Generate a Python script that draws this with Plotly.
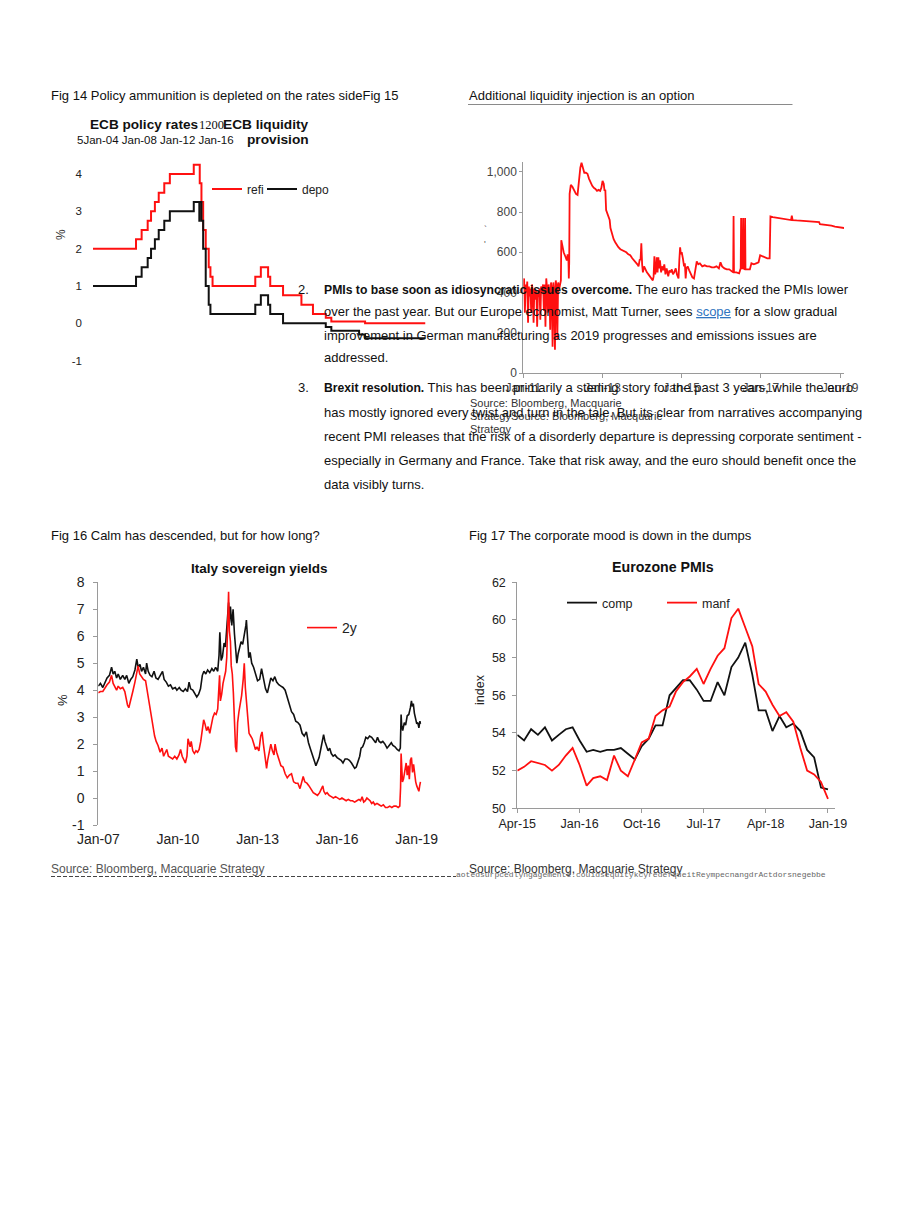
import plotly.graph_objects as go
import pandas as pd

W, H = 920, 1216
def px(x): return x / W
def py(y): return 1 - y / H

def yr(v):
    # decimal year -> timestamp
    y = int(v)
    start = pd.Timestamp(year=y, month=1, day=1)
    end = pd.Timestamp(year=y + 1, month=1, day=1)
    return start + (end - start) * (v - y)

FONT = "Arial, 'Liberation Sans', sans-serif"
RED = "#ff1010"
BLK = "#111111"

# ---------------- Fig 14: ECB policy rates (step data) ----------------
refi_dates = ["2004-01-01", "2005-12-06", "2006-03-08", "2006-06-15", "2006-08-09", "2006-10-11",
              "2006-12-13", "2007-03-14", "2007-06-13", "2008-07-09", "2008-10-15", "2008-11-12",
              "2008-12-10", "2009-01-21", "2009-03-11", "2009-04-08", "2009-05-13", "2011-04-13",
              "2011-07-13", "2011-11-09", "2011-12-14", "2012-07-11", "2013-05-08", "2013-11-13",
              "2014-06-11", "2014-09-10", "2016-03-16", "2018-12-01"]
refi = [2.0, 2.25, 2.5, 2.75, 3.0, 3.25, 3.5, 3.75, 4.0, 4.25, 3.75, 3.25, 2.5, 2.0, 1.5, 1.25,
        1.0, 1.25, 1.5, 1.25, 1.0, 0.75, 0.5, 0.25, 0.15, 0.05, 0.0, 0.0]
depo_dates = ["2004-01-01", "2005-12-06", "2006-03-08", "2006-06-15", "2006-08-09", "2006-10-11",
              "2006-12-13", "2007-03-14", "2007-06-13", "2008-07-09", "2008-10-08", "2008-10-09",
              "2008-11-12", "2008-12-10", "2009-01-21", "2009-03-11", "2009-04-08", "2011-04-13",
              "2011-07-13", "2011-11-09", "2011-12-14", "2012-07-11", "2014-06-11", "2014-09-10",
              "2015-12-09", "2016-03-16", "2018-12-01"]
depo = [1.0, 1.25, 1.5, 1.75, 2.0, 2.25, 2.5, 2.75, 3.0, 3.25, 2.75, 3.25, 2.75, 2.0, 1.0, 0.5,
        0.25, 0.5, 0.75, 0.5, 0.25, 0.0, -0.1, -0.2, -0.3, -0.4, -0.4]
rate_ticks = [-1, 0, 1, 2, 3, 4]
rate_ticktext = ["-1", "0", "1", "2", "3", "4"]

# ---------------- Fig 15: ECB liquidity provision (EUR bn) ----------------
liq_t = [2011.00, 2011.02, 2011.04, 2011.06, 2011.08, 2011.10, 2011.12, 2011.14, 2011.16, 2011.18,
         2011.20, 2011.22, 2011.24, 2011.26, 2011.28, 2011.31, 2011.33, 2011.35, 2011.37, 2011.39,
         2011.41, 2011.43, 2011.45, 2011.48, 2011.50, 2011.52, 2011.54, 2011.56, 2011.58, 2011.60,
         2011.62, 2011.64, 2011.66, 2011.68, 2011.70, 2011.72, 2011.74, 2011.76, 2011.78, 2011.80,
         2011.82, 2011.84, 2011.86, 2011.88, 2011.91, 2011.93, 2011.95, 2011.96, 2011.99, 2012.02,
         2012.06, 2012.10, 2012.12, 2012.14, 2012.15, 2012.16, 2012.17, 2012.20, 2012.24, 2012.28,
         2012.33, 2012.37, 2012.40, 2012.44, 2012.47, 2012.50, 2012.54, 2012.58, 2012.62, 2012.66,
         2012.70, 2012.74, 2012.78, 2012.82, 2012.86, 2012.90, 2012.94, 2012.97, 2013.00, 2013.03,
         2013.05, 2013.07, 2013.09, 2013.12, 2013.15, 2013.18, 2013.20, 2013.24, 2013.28, 2013.32,
         2013.36, 2013.40, 2013.45, 2013.50, 2013.55, 2013.60, 2013.65, 2013.70, 2013.75, 2013.80,
         2013.85, 2013.88, 2013.91, 2013.94, 2013.96, 2013.98, 2014.00, 2014.02, 2014.05, 2014.08,
         2014.12, 2014.16, 2014.20, 2014.24, 2014.27, 2014.29, 2014.31, 2014.33, 2014.35, 2014.37,
         2014.39, 2014.41, 2014.43, 2014.45, 2014.48, 2014.50, 2014.53, 2014.56, 2014.59, 2014.62,
         2014.66, 2014.69, 2014.72, 2014.75, 2014.78, 2014.81, 2014.85, 2014.88, 2014.92, 2014.94,
         2014.96, 2014.98, 2015.00, 2015.03, 2015.06, 2015.08, 2015.10, 2015.12, 2015.15, 2015.19,
         2015.23, 2015.27, 2015.31, 2015.34, 2015.38, 2015.42, 2015.46, 2015.52, 2015.58, 2015.64,
         2015.70, 2015.76, 2015.82, 2015.88, 2015.94, 2015.98, 2016.02, 2016.08, 2016.14, 2016.20,
         2016.26, 2016.30, 2016.31, 2016.32, 2016.38, 2016.45, 2016.49, 2016.50, 2016.51, 2016.54,
         2016.55, 2016.56, 2016.59, 2016.60, 2016.61, 2016.66, 2016.72, 2016.76, 2016.82, 2016.88,
         2016.94, 2016.98, 2017.04, 2017.10, 2017.16, 2017.22, 2017.24, 2017.30, 2017.40, 2017.50,
         2017.60, 2017.70, 2017.76, 2017.78, 2017.80, 2017.90, 2018.00, 2018.10, 2018.20, 2018.30,
         2018.40, 2018.47, 2018.49, 2018.60, 2018.70, 2018.78, 2018.87, 2018.95, 2019.05, 2019.12]
liq = [420, 470, 300, 440, 400, 455, 250, 430, 380, 420,
       300, 440, 400, 250, 420, 365, 410, 230, 400, 380,
       420, 265, 430, 400, 440, 310, 440, 230, 470, 420,
       300, 440, 400, 215, 450, 420, 130, 450, 410, 115,
       460, 430, 165, 450, 420, 440, 460, 660, 620, 600,
       580, 560, 590, 560, 470, 550, 890, 935, 925, 910,
       890, 885, 960, 1020, 1045, 1025, 995, 995, 990, 965,
       945, 930, 920, 915, 905, 910, 905, 920, 955, 940,
       905, 910, 810, 790, 770, 760, 720, 690, 665, 650,
       635, 625, 615, 610, 605, 600, 590, 585, 570, 560,
       545, 540, 530, 565, 560, 645, 540, 500, 530, 515,
       500, 490, 480, 470, 460, 480, 580, 490, 510, 575,
       500, 575, 520, 560, 500, 530, 510, 540, 490, 520,
       480, 510, 500, 515, 490, 500, 520, 490, 470, 560,
       625, 590, 600, 570, 530, 545, 470, 520, 530, 510,
       490, 475, 470, 500, 555, 540, 545, 530, 535, 530,
       530, 525, 525, 530, 520, 550, 530, 520, 515, 515,
       505, 500, 780, 500, 500, 495, 520, 770, 520, 520,
       770, 520, 515, 770, 515, 515, 515, 545, 540, 545,
       550, 585, 580, 575, 570, 570, 778, 775, 772, 768,
       765, 762, 760, 782, 760, 758, 756, 755, 754, 752,
       751, 750, 740, 738, 736, 732, 727, 724, 722, 720]
liq_ticks = [0, 200, 400, 600, 800, 1000]

# ---------------- Fig 16: Italy sovereign yields ----------------
y10_t = [2007.00, 2007.08, 2007.17, 2007.25, 2007.33, 2007.42, 2007.50, 2007.56, 2007.62, 2007.69,
         2007.75, 2007.83, 2007.92, 2008.00, 2008.07, 2008.15, 2008.22, 2008.30, 2008.38, 2008.45,
         2008.50, 2008.57, 2008.63, 2008.70, 2008.78, 2008.82, 2008.88, 2008.95, 2009.02, 2009.10,
         2009.17, 2009.25, 2009.33, 2009.42, 2009.48, 2009.56, 2009.64, 2009.72, 2009.80, 2009.90,
         2009.96, 2010.05, 2010.12, 2010.20, 2010.28, 2010.36, 2010.42, 2010.48, 2010.56, 2010.64,
         2010.71, 2010.78, 2010.85, 2010.92, 2010.98, 2011.05, 2011.12, 2011.20, 2011.28, 2011.35,
         2011.42, 2011.50, 2011.55, 2011.58, 2011.63, 2011.68, 2011.74, 2011.79, 2011.84, 2011.88,
         2011.91, 2011.94, 2011.98, 2012.03, 2012.08, 2012.13, 2012.17, 2012.22, 2012.27, 2012.32,
         2012.38, 2012.44, 2012.50, 2012.56, 2012.58, 2012.62, 2012.67, 2012.72, 2012.78, 2012.85,
         2012.92, 2013.00, 2013.08, 2013.15, 2013.22, 2013.30, 2013.37, 2013.44, 2013.50, 2013.58,
         2013.65, 2013.72, 2013.80, 2013.88, 2013.96, 2014.04, 2014.12, 2014.20, 2014.28, 2014.36,
         2014.44, 2014.52, 2014.60, 2014.68, 2014.76, 2014.84, 2014.92, 2015.00, 2015.08, 2015.15,
         2015.20, 2015.26, 2015.32, 2015.38, 2015.44, 2015.49, 2015.54, 2015.60, 2015.66, 2015.72,
         2015.78, 2015.85, 2015.92, 2016.00, 2016.08, 2016.15, 2016.22, 2016.30, 2016.38, 2016.46,
         2016.54, 2016.60, 2016.66, 2016.72, 2016.78, 2016.85, 2016.90, 2016.96, 2017.02, 2017.08,
         2017.15, 2017.22, 2017.30, 2017.38, 2017.45, 2017.52, 2017.58, 2017.65, 2017.72, 2017.80,
         2017.88, 2017.96, 2018.04, 2018.10, 2018.18, 2018.26, 2018.33, 2018.38, 2018.40, 2018.41,
         2018.43, 2018.47, 2018.53, 2018.58, 2018.64, 2018.70, 2018.76, 2018.80, 2018.83, 2018.87,
         2018.91, 2018.95, 2019.00, 2019.04, 2019.08, 2019.12, 2019.14]
y10 = [4.15, 4.25, 4.10, 4.30, 4.45, 4.55, 4.85, 4.60, 4.70, 4.45,
       4.60, 4.40, 4.55, 4.40, 4.55, 4.25, 4.40, 4.50, 4.75, 5.15,
       4.85, 4.95, 4.70, 4.85, 4.60, 5.00, 4.70, 4.55, 4.50, 4.70,
       4.45, 4.40, 4.55, 4.70, 4.40, 4.30, 4.15, 4.20, 4.05, 4.10,
       4.00, 4.10, 4.00, 3.95, 4.05, 3.95, 4.30, 4.05, 4.00, 3.85,
       3.75, 3.85, 4.05, 4.55, 4.70, 4.60, 4.75, 4.65, 4.80, 4.70,
       4.85, 4.70, 5.30, 6.15, 5.10, 5.25, 5.75, 5.60, 6.20, 6.60,
       7.25, 6.50, 7.10, 6.40, 7.00, 6.10, 5.40, 5.00, 5.35, 5.60,
       5.80, 5.70, 6.00, 6.40, 6.60, 5.80, 5.20, 5.40, 5.00, 4.85,
       4.65, 4.35, 4.40, 4.80, 4.45, 4.05, 3.90, 4.25, 4.45, 4.35,
       4.50, 4.30, 4.20, 4.15, 4.10, 4.00, 3.70, 3.45, 3.20, 3.10,
       2.85, 2.80, 2.70, 2.40, 2.30, 2.45, 2.05, 1.80, 1.55, 1.30,
       1.20, 1.35, 1.50, 1.80, 2.15, 2.35, 2.10, 1.90, 1.75, 1.85,
       1.65, 1.55, 1.60, 1.50, 1.45, 1.40, 1.30, 1.45, 1.45, 1.40,
       1.30, 1.20, 1.10, 1.15, 1.35, 1.55, 1.85, 1.90, 2.05, 2.25,
       2.20, 2.30, 2.25, 2.15, 2.05, 2.25, 2.10, 2.05, 2.10, 2.00,
       1.85, 1.95, 2.05, 1.95, 1.90, 1.80, 1.75, 1.85, 2.60, 3.10,
       2.70, 2.50, 2.80, 2.70, 3.05, 3.10, 3.35, 3.60, 3.40, 3.50,
       3.15, 2.95, 2.75, 2.80, 2.60, 2.85, 2.75]
y2_t = [2007.00, 2007.08, 2007.17, 2007.25, 2007.33, 2007.42, 2007.50, 2007.56, 2007.62, 2007.69,
        2007.75, 2007.83, 2007.92, 2008.00, 2008.05, 2008.10, 2008.15, 2008.22, 2008.30, 2008.38,
        2008.45, 2008.50, 2008.56, 2008.63, 2008.70, 2008.78, 2008.83, 2008.88, 2008.95, 2009.00,
        2009.06, 2009.12, 2009.18, 2009.25, 2009.33, 2009.40, 2009.46, 2009.52, 2009.58, 2009.64,
        2009.72, 2009.80, 2009.88, 2009.96, 2010.04, 2010.10, 2010.16, 2010.22, 2010.28, 2010.34,
        2010.38, 2010.42, 2010.46, 2010.50, 2010.56, 2010.62, 2010.68, 2010.74, 2010.80, 2010.86,
        2010.92, 2010.97, 2011.02, 2011.08, 2011.14, 2011.20, 2011.26, 2011.32, 2011.38, 2011.44,
        2011.50, 2011.54, 2011.57, 2011.60, 2011.65, 2011.70, 2011.75, 2011.80, 2011.84, 2011.88,
        2011.91, 2011.94, 2011.98, 2012.01, 2012.05, 2012.09, 2012.13, 2012.17, 2012.21, 2012.25,
        2012.30, 2012.35, 2012.40, 2012.46, 2012.50, 2012.54, 2012.58, 2012.62, 2012.68, 2012.74,
        2012.80, 2012.86, 2012.92, 2012.98, 2013.05, 2013.12, 2013.17, 2013.22, 2013.28, 2013.34,
        2013.38, 2013.44, 2013.50, 2013.56, 2013.62, 2013.66, 2013.72, 2013.80, 2013.88, 2013.96,
        2014.04, 2014.12, 2014.20, 2014.28, 2014.36, 2014.44, 2014.52, 2014.60, 2014.66, 2014.72,
        2014.78, 2014.86, 2014.94, 2015.02, 2015.10, 2015.18, 2015.26, 2015.34, 2015.40, 2015.46,
        2015.50, 2015.56, 2015.62, 2015.70, 2015.78, 2015.86, 2015.94, 2016.02, 2016.10, 2016.18,
        2016.26, 2016.34, 2016.42, 2016.50, 2016.58, 2016.66, 2016.74, 2016.82, 2016.88, 2016.94,
        2017.00, 2017.06, 2017.12, 2017.18, 2017.24, 2017.30, 2017.36, 2017.42, 2017.50, 2017.58,
        2017.66, 2017.74, 2017.82, 2017.90, 2017.98, 2018.06, 2018.14, 2018.22, 2018.30, 2018.36,
        2018.39, 2018.41, 2018.43, 2018.46, 2018.50, 2018.55, 2018.60, 2018.64, 2018.68, 2018.72,
        2018.76, 2018.80, 2018.84, 2018.88, 2018.92, 2018.96, 2019.00, 2019.04, 2019.08, 2019.11,
        2019.14]
y2 = [3.90, 3.95, 3.95, 4.10, 4.20, 4.30, 4.55, 4.25, 4.15, 4.00,
      4.15, 4.05, 4.10, 3.95, 3.70, 3.45, 3.35, 3.60, 3.95, 4.30,
      4.65, 4.90, 4.60, 4.50, 4.40, 4.35, 4.05, 3.70, 3.40, 3.05,
      2.70, 2.30, 2.10, 1.95, 1.70, 1.85, 1.55, 1.70, 1.80, 1.55,
      1.50, 1.45, 1.55, 1.45, 1.60, 1.80, 1.55, 1.40, 1.30, 1.55,
      2.20, 2.05, 1.90, 2.10, 1.75, 1.65, 1.75, 1.70, 1.80, 2.10,
      2.55, 2.90, 2.75, 2.50, 2.65, 2.40, 2.70, 3.00, 3.15, 3.10,
      3.30, 3.90, 4.55, 3.60, 3.85, 4.25, 4.55, 4.70, 5.20, 6.40,
      7.65, 6.20, 5.80, 4.90, 4.60, 3.90, 2.80, 1.90, 1.70, 2.80,
      3.20, 3.50, 3.80, 4.40, 5.00, 4.10, 3.60, 3.00, 2.40, 2.30,
      2.20, 2.00, 1.80, 1.90, 1.75, 2.30, 2.45, 2.00, 1.60, 1.10,
      1.40, 1.70, 2.00, 1.75, 1.60, 2.00, 1.70, 1.45, 1.20, 1.15,
      0.90, 0.75, 0.85, 0.90, 0.60, 0.55, 0.55, 0.35, 0.55, 0.80,
      0.60, 0.55, 0.45, 0.30, 0.20, 0.15, 0.10, 0.20, 0.30, 0.45,
      0.25, 0.15, 0.20, 0.10, 0.05, 0.00, 0.05, 0.00, -0.05, 0.00,
      -0.05, -0.10, -0.05, -0.10, -0.10, -0.15, -0.10, -0.05, -0.10, 0.05,
      -0.15, -0.10, 0.00, -0.05, -0.10, -0.20, -0.15, -0.25, -0.20, -0.25,
      -0.30, -0.25, -0.35, -0.35, -0.30, -0.35, -0.30, -0.30, -0.35, -0.30,
      0.40, 1.65, 1.10, 0.60, 0.70, 0.95, 1.30, 0.85, 1.20, 0.70,
      1.40, 1.50, 0.95, 1.25, 0.80, 0.60, 0.45, 0.35, 0.25, 0.45,
      0.60]
yield_ticks = [-1, 0, 1, 2, 3, 4, 5, 6, 7, 8]
yield_ticktext = ["-1", "0", "1", "2", "3", "4", "5", "6", "7", "8"]

# ---------------- Fig 17: Eurozone PMIs (monthly, Apr-15 .. Jan-19) ----------------
pmi_months = pd.date_range("2015-04-01", "2019-01-01", freq="MS")
comp = [53.9, 53.6, 54.2, 53.9, 54.3, 53.6, 53.9, 54.2, 54.3, 53.6, 53.0, 53.1, 53.0, 53.1,
        53.1, 53.2, 52.9, 52.6, 53.3, 53.7, 54.4, 54.4, 56.0, 56.4, 56.8, 56.8, 56.3, 55.7,
        55.7, 56.7, 56.0, 57.5, 58.0, 58.8, 57.1, 55.2, 55.2, 54.1, 54.9, 54.3, 54.5, 54.1,
        53.1, 52.7, 51.1, 51.0]
manf = [52.0, 52.2, 52.5, 52.4, 52.3, 52.0, 52.3, 52.8, 53.2, 52.3, 51.2, 51.6, 51.7, 51.5,
        52.8, 52.0, 51.7, 52.6, 53.5, 53.7, 54.9, 55.2, 55.4, 56.2, 56.7, 57.0, 57.4, 56.6,
        57.4, 58.1, 58.5, 60.1, 60.6, 59.6, 58.6, 56.6, 56.2, 55.5, 54.9, 55.1, 54.6, 53.2,
        52.0, 51.8, 51.4, 50.5]
pmi_ticks = [50, 52, 54, 56, 58, 60, 62]

fig = go.Figure()

# Fig 14 traces
fig.add_trace(go.Scatter(x=refi_dates, y=refi, mode="lines", line=dict(color=RED, width=2, shape="hv"),
                         name="refi", xaxis="x", yaxis="y", legend="legend"))
fig.add_trace(go.Scatter(x=depo_dates, y=depo, mode="lines", line=dict(color=BLK, width=2, shape="hv"),
                         name="depo", xaxis="x", yaxis="y", legend="legend2"))
# Fig 15 trace
fig.add_trace(go.Scatter(x=[yr(t) for t in liq_t], y=liq, mode="lines",
                         line=dict(color=RED, width=1.8), showlegend=False, xaxis="x2", yaxis="y2"))
# Fig 16 traces
fig.add_trace(go.Scatter(x=[yr(t) for t in y10_t], y=y10, mode="lines",
                         line=dict(color=BLK, width=1.6), name="10y", showlegend=False,
                         xaxis="x3", yaxis="y3"))
fig.add_trace(go.Scatter(x=[yr(t) for t in y2_t], y=y2, mode="lines",
                         line=dict(color=RED, width=1.6), name="2y", xaxis="x3", yaxis="y3",
                         legend="legend3"))
# Fig 17 traces
fig.add_trace(go.Scatter(x=pmi_months, y=comp, mode="lines", line=dict(color=BLK, width=1.8),
                         name="comp", xaxis="x4", yaxis="y4", legend="legend4"))
fig.add_trace(go.Scatter(x=pmi_months, y=manf, mode="lines", line=dict(color=RED, width=1.8),
                         name="manf", xaxis="x4", yaxis="y4", legend="legend5"))

AX = "#9a9a9a"
common_x = dict(showgrid=False, zeroline=False, type="date", automargin=False)
common_y = dict(showgrid=False, zeroline=False, automargin=False)

def leg(x, y, size):
    return dict(orientation="h", x=px(x), xanchor="left", y=py(y), yanchor="middle",
                bgcolor="rgba(0,0,0,0)", borderwidth=0, font=dict(size=size, color="#222"),
                itemwidth=30)

fig.update_layout(
    width=W, height=H, margin=dict(l=0, r=0, t=0, b=0, pad=0, autoexpand=False),
    paper_bgcolor="white", plot_bgcolor="rgba(0,0,0,0)",
    font=dict(family=FONT, color="#111"),
    # Fig 14
    xaxis=dict(common_x, domain=[px(93), px(425.5)], range=["2004-01-01", "2018-12-01"],
               visible=False, anchor="y"),
    yaxis=dict(common_y, domain=[py(368.1), py(155.3)], range=[-1.2, 4.5], tickvals=rate_ticks,
               ticktext=rate_ticktext, showline=False, ticks="",
               tickfont=dict(size=11.5, color="#222"), ticklabelstandoff=10, anchor="x"),
    # Fig 15
    xaxis2=dict(common_x, domain=[px(523.3), px(844)], range=["2011-01-01", "2019-02-06"],
                tick0="2011-01-01", dtick="M24", tickformat="%b-%y", showline=True,
                linecolor=AX, ticks="outside", ticklen=4, tickcolor=AX,
                tickfont=dict(size=12, color="#444"), anchor="y2"),
    yaxis2=dict(common_y, domain=[py(373), py(161.7)], range=[0, 1050], tickvals=liq_ticks,
                tickformat=",", showline=True, linecolor=AX, ticks="outside", ticklen=3,
                tickcolor=AX, tickfont=dict(size=12, color="#444"), anchor="x2"),
    # Fig 16
    xaxis3=dict(common_x, domain=[px(98.3), px(421.7)], range=["2007-01-01", "2019-03-10"],
                tick0="2007-01-01", dtick="M36", tickformat="%b-%y", showline=False, ticks="",
                tickfont=dict(size=14, color="#222"), ticklabelstandoff=4, anchor="y3"),
    xaxis5=dict(common_x, domain=[px(98.3), px(421.7)], range=["2007-01-01", "2019-03-10"],
                tick0="2007-01-01", dtick="M36", showline=True, linecolor=AX, ticks="outside",
                ticklen=4, tickcolor=AX, showticklabels=False, overlaying="x3",
                anchor="free", position=py(798.3)),
    yaxis3=dict(common_y, domain=[py(825), py(582.3)], range=[-1, 8], tickvals=yield_ticks,
                ticktext=yield_ticktext, showline=True, linecolor=AX, ticks="outside", ticklen=4,
                tickcolor=AX, tickfont=dict(size=14, color="#222"), ticklabelstandoff=6,
                anchor="x3"),
    # Fig 17
    xaxis4=dict(common_x, domain=[px(517.3), px(835)], range=["2015-04-01", "2019-02-01"],
                tick0="2015-04-01", dtick="M9", tickformat="%b-%y", showline=True,
                linecolor=AX, ticks="outside", ticklen=4, tickcolor=AX,
                tickfont=dict(size=12.5, color="#222"), anchor="y4"),
    yaxis4=dict(common_y, domain=[py(808.3), py(582.3)], range=[50, 62], tickvals=pmi_ticks,
                showline=True, linecolor=AX, ticks="outside", ticklen=4, tickcolor=AX,
                tickfont=dict(size=12.5, color="#222"), ticklabelstandoff=4, anchor="x4"),
    legend=leg(207, 189, 12),
    legend2=leg(262, 189, 12),
    legend3=leg(302, 628, 14),
    legend4=leg(562, 603, 12.5),
    legend5=leg(662, 603, 12.5),
)

ann = []
def txt(x, y, s, size=13, color="#111", anchor="left", family=FONT, angle=0, yanchor="middle"):
    ann.append(dict(x=px(x), y=py(y), xref="paper", yref="paper", text=s, showarrow=False,
                    xanchor=anchor, yanchor=yanchor, textangle=angle,
                    font=dict(size=size, color=color, family=family), borderpad=0))

# Headers
txt(50, 95.5, "Fig 14 Policy ammunition is depleted on the rates sideFig 15", size=13)
txt(468, 95.5, "Additional liquidity injection is an option", size=13)
txt(50, 535, "Fig 16 Calm has descended, but for how long?", size=13)
txt(468, 535, "Fig 17 The corporate mood is down in the dumps", size=13)

# Fig 14 / 15 titles (overlapping, as in source)
txt(88.5, 124, "<b>ECB policy rates</b>", size=13.6)
txt(197.5, 124.5, "1200", size=12.5, family="'Liberation Serif', 'DejaVu Serif', serif")
txt(310, 124, "<b>ECB liquidity</b>", size=13.7, anchor="right")
txt(310, 140, "<b>provision</b>", size=13.7, anchor="right")
txt(76, 139.5, "5Jan-04 Jan-08 Jan-12 Jan-16", size=11.5)
txt(61, 235, "%", size=12, angle=-90, anchor="center", color="#333")

# Fig 15 small remnants & source
txt(485, 229, "`", size=9, anchor="center", color="#555")
txt(485, 244, "'", size=9, anchor="center", color="#555")
txt(469, 403, "Source: Bloomberg, Macquarie", size=11, color="#333")
txt(469, 416, "StrategySource: Bloomberg, Macquarie", size=11, color="#333")
txt(469, 429, "Strategy", size=11, color="#333")

# Body text
LX, NX = 323, 297
BS = "<span style='font-size:12.2px'><b>{}</b></span>"
txt(NX, 289.5, "2.")
txt(LX, 289.5, BS.format("PMIs to base soon as idiosyncratic issues overcome.")
    + " The euro has tracked the PMIs lower")
txt(LX, 312, "over the past year. But our Europe economist, Matt Turner, sees "
    "<span style='color:#2f74c0'><u>scope</u></span> for a slow gradual")
txt(LX, 335, "improvement in German manufacturing as 2019 progresses and emissions issues are")
txt(LX, 358, "addressed.")
txt(NX, 388, "3.")
txt(LX, 388, BS.format("Brexit resolution.")
    + " This has been primarily a sterling story for the past 3 years, while the euro")
txt(LX, 412.5, "has mostly ignored every twist and turn in the tale. But its clear from narratives accompanying")
txt(LX, 436.5, "recent PMI releases that the risk of a disorderly departure is depressing corporate sentiment -")
txt(LX, 460.5, "especially in Germany and France. Take that risk away, and the euro should benefit once the")
txt(LX, 484.3, "data visibly turns.")

# Fig 16 / 17 chart titles and axis titles
txt(259, 568, "<b>Italy sovereign yields</b>", size=13.5, anchor="center")
txt(62, 700, "%", size=13, angle=-90, anchor="center", color="#222")
txt(663, 567, "<b>Eurozone PMIs</b>", size=14.2, anchor="center")
txt(480, 690, "index", size=12.5, angle=-90, anchor="center", color="#222")

# Bottom sources
txt(50, 869, "Source: Bloomberg, Macquarie Strategy", size=12, color="#555")
txt(468, 869, "Source: Bloomberg, Macquarie Strategy", size=12, color="#333")
txt(455, 874, "aotedsurpcedlyngagemente.couidsequitykcyredefqueitReympecnangdrActdorsnegebbe",
    size=8, color="#666", family="'Liberation Mono', 'DejaVu Sans Mono', monospace")

fig.update_layout(annotations=ann)

fig.update_layout(shapes=[
    dict(type="line", xref="paper", yref="paper", x0=px(468), x1=px(792.5), y0=py(104.5),
         y1=py(104.5), line=dict(color="#8a8a8a", width=1)),
    dict(type="line", xref="paper", yref="paper", x0=px(51), x1=px(456), y0=py(876.5),
         y1=py(876.5), line=dict(color="#444", width=1, dash="4px,2px")),
])

fig.write_html("out.html", config={"displayModeBar": False},
               post_script="document.body.style.margin='0px';document.body.style.padding='0px';")
